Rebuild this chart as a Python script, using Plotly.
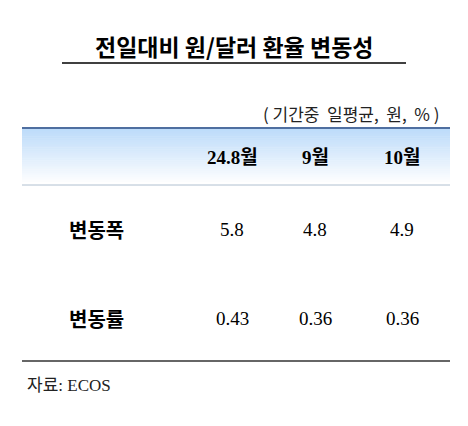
import plotly.graph_objects as go

title = "전일대비 원/달러 환율 변동성"
unit_note = "( 기간중  일평균,  원,  % )"
columns = ["24.8월", "9월", "10월"]
row_labels = ["변동폭", "변동률"]
values = [["5.8", "4.8", "4.9"], ["0.43", "0.36", "0.36"]]
source = "자료: ECOS"

W, H = 468, 426
DX, DY = -8, -9
col_x = [232 + DX, 315 + DX, 402 + DX]
row_y = [230 + DY, 319 + DY]
fig = go.Figure()
fig.add_trace(go.Scatter(x=[0, W], y=[0, H], mode="markers", marker=dict(opacity=0), hoverinfo="skip"))

shapes = []
top, bot = 130 + DY, 185 + DY
n = 30
for i in range(n):
    t = i / (n - 1)
    r = int(190 + (255 - 190) * t)
    g = int(220 + (255 - 220) * t)
    b = int(250 + (255 - 250) * t)
    y0 = top + (bot - top) * i / n
    y1 = top + (bot - top) * (i + 1) / n
    shapes.append(dict(type="rect", x0=22 + DX, x1=450 + DX, y0=y0, y1=y1 + 0.5, fillcolor=f"rgb({r},{g},{b})", line_width=0, layer="below"))
shapes.append(dict(type="line", x0=22 + DX, x1=450 + DX, y0=129 + DY, y1=129 + DY, line=dict(color="#4f6fa0", width=2)))
shapes.append(dict(type="line", x0=22 + DX, x1=450 + DX, y0=186 + DY, y1=186 + DY, line=dict(color="#b0c0d0", width=1)))
shapes.append(dict(type="line", x0=22 + DX, x1=450 + DX, y0=362 + DY, y1=362 + DY, line=dict(color="#333", width=1.5)))
shapes.append(dict(type="line", x0=62 + DX, x1=406 + DX, y0=64 + DY, y1=64 + DY, line=dict(color="#000", width=1.5)))

ann = []
ann.append(dict(x=234 + DX, y=47 + DY, text=f"<b>{title}</b>", showarrow=False, font=dict(size=23, family="Noto Sans CJK KR", color="#000")))
ann.append(dict(x=442 + DX, y=114 + DY, text=unit_note, xanchor="right", showarrow=False, font=dict(size=17, family="Noto Sans CJK KR", color="#222")))
for x, c in zip(col_x, columns):
    ann.append(dict(x=x, y=158 + DY, text=f"<b>{c}</b>", showarrow=False, font=dict(size=19, family="Liberation Serif, Noto Sans CJK KR", color="#000")))
for y, lab, vals in zip(row_y, row_labels, values):
    ann.append(dict(x=96 + DX, y=y, text=f"<b>{lab}</b>", showarrow=False, font=dict(size=20, family="Noto Sans CJK KR", color="#000")))
    for x, v in zip(col_x, vals):
        ann.append(dict(x=x, y=y, text=v, showarrow=False, font=dict(size=19, family="Liberation Serif", color="#000")))
ann.append(dict(x=25 + DX, y=386 + DY, text=source, xanchor="left", showarrow=False, font=dict(size=17, family="Liberation Serif, Noto Sans CJK KR", color="#222")))

fig.update_layout(width=W, height=H, margin=dict(l=0, r=0, t=0, b=0), plot_bgcolor="white", paper_bgcolor="white",
                  xaxis=dict(range=[0, W], visible=False, fixedrange=True),
                  yaxis=dict(range=[H, 0], visible=False, fixedrange=True),
                  shapes=shapes, annotations=ann, showlegend=False)
fig.write_html("out.html")
